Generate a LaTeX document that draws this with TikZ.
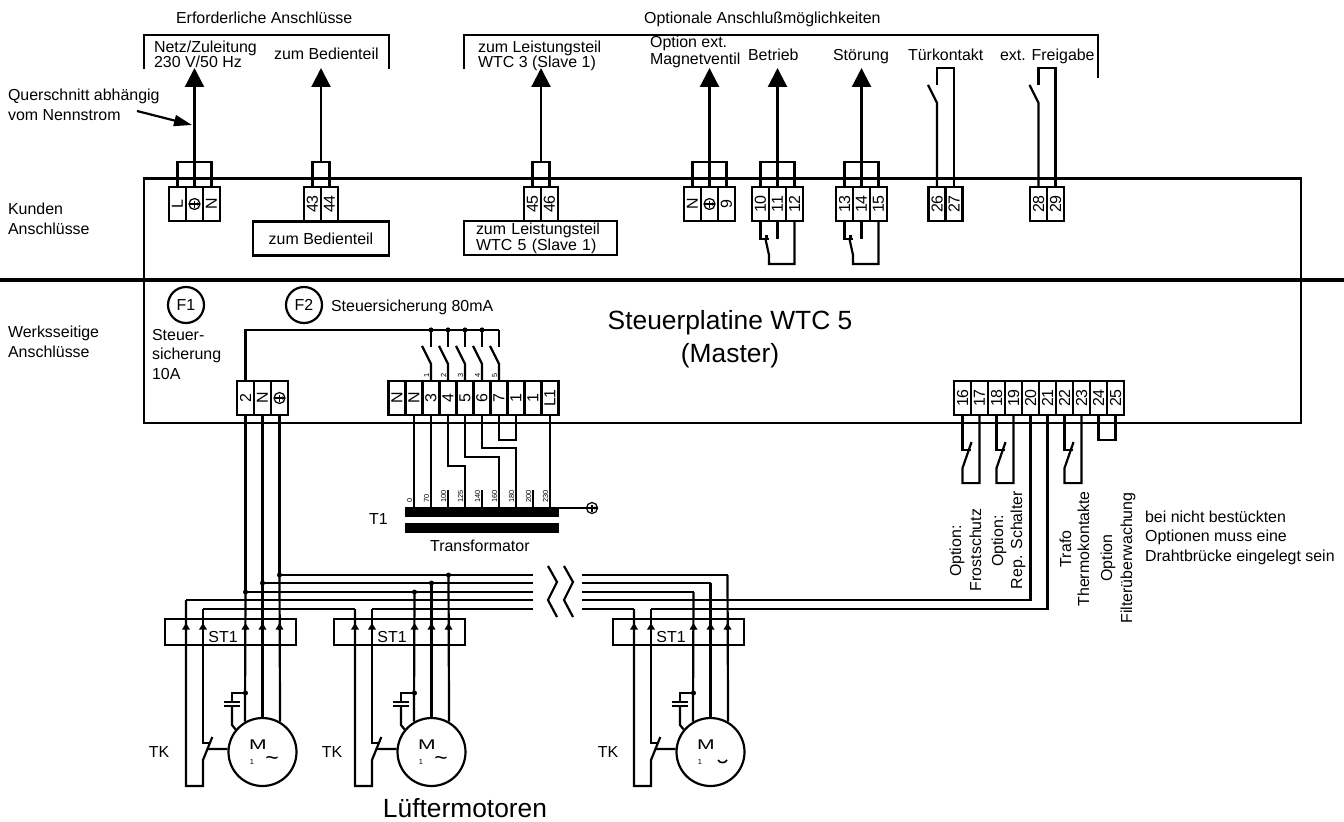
\documentclass[tikz,border=0pt]{standalone}
\usepackage{fontspec}
\setmainfont{Liberation Sans}
\usetikzlibrary{arrows.meta}
\tikzset{
  schrift/.style={inner sep=0pt, font=\fontsize{9.07}{9.07}\selectfont},
  zeilen/.style={schrift, align=left, anchor=base west, font=\fontsize{9.07}{#1}\selectfont},
  klemme/.style={draw, minimum width=.34cm, minimum height=.68cm, schrift},
  kasten/.style={draw, minimum height=.68cm, schrift},
  sicherung/.style={draw, circle, minimum size=.72cm, schrift},
  stecker/.style={draw, minimum width=2.62cm, minimum height=.52cm, inner sep=0pt},
  motor/.style={draw, circle, minimum size=1.36cm, inner sep=0pt},
  punkt/.style={circle, fill=black, minimum size=.1cm, inner sep=0pt},
  wicklung/.style={fill=black, minimum width=3.08cm, minimum height=.2cm, inner sep=0pt},
  winzig/.style={inner sep=0pt, rotate=90, anchor=west, font=\fontsize{4.2}{4.2}\selectfont},
  stehend/.style={schrift, rotate=90, anchor=base},
  pfeil/.style={-{Triangle[length=.38cm,width=.38cm]}},
  kleinpfeil/.style={-{Triangle[length=.13cm,width=.15cm]}},
  pics/erde/.style={code={
    \draw[line width=.7pt] (0,0) circle (5.5);
    \draw[line width=.7pt] (-5.5,0) -- (5.5,0) (0,-3.5) -- (0,3.5);
    \fill (3,0) circle (1.6);
  }}
}
\begin{document}
\begin{tikzpicture}[x=.02cm,y=-.02cm,line width=1.25pt]
  \useasboundingbox (0,0) rectangle (1344,821);
  \draw (144,178.5) rectangle (1301,423);
  \draw[line width=2.1pt] (0,280) -- (1344,280);
  \draw (144,69) -- (144,35) -- (389,35) -- (389,69);
  \draw (464,69) -- (464,35) -- (1098,35) -- (1098,78);

  % Texte oben und links
  \path (175,24) node[schrift, anchor=base west] (erfo) {Erforderliche Anschlüsse};
  \path (643,24) node[schrift, anchor=base west] (opti) {Optionale Anschlußmöglichkeiten};
  \path (153,68) node[zeilen=9.07pt] (netz) {Netz/Zuleitung\\230 V/50 Hz};
  \path (273,60) node[schrift, anchor=base west] (bedi) {zum Bedienteil};
  \path (477,68) node[zeilen=9.07pt] (wtc3) {zum Leistungsteil\\WTC 3 (Slave 1)};
  \path (649,64.5) node[zeilen=9.6pt] (magn) {Option ext.\\Magnetventil};
  \path (747,61) node[schrift, anchor=base west] (betr) {Betrieb};
  \path (832,61) node[schrift, anchor=base west] (stoe) {Störung};
  \path (907,61) node[schrift, anchor=base west] (tuer) {Türkontakt};
  \path (999,61) node[schrift, anchor=base west] (frei) {ext. Freigabe};
  \path (7,120) node[zeilen=11.3pt] (quer) {Querschnitt abhängig\\vom Nennstrom};
  \path (7,234) node[zeilen=11.05pt] (kund) {Kunden\\Anschlüsse};
  \path (7,357) node[zeilen=11.05pt] (werk) {Werksseitige\\Anschlüsse};
  \coordinate (qa) at (137,111);
  \coordinate (qb) at (192,125);
  \draw[-{Triangle[length=.36cm,width=.22cm]}] (qa) -- (qb);

  % Klemmen Kunden
  \foreach \nam/\xx/\lab in {kL/177.5/L, kE/194.5/, kN/211.5/N, k43/312.5/43, k44/329.5/44, k45/532.5/45, k46/549.5/46,
      kN9/692.5/N, kE9/709.5/, k9/726.5/9, k10/760.5/10, k11/777.5/11, k12/794.5/12, k13/844.5/13, k14/861.5/14, k15/878.5/15,
      k26/937/26, k27/954/27, k28/1038.5/28, k29/1055.5/29}
    \path (\xx,204) node[klemme] (\nam) {\rotatebox{90}{\lab}};
  \pic at (kE) {erde};
  \pic at (kE9) {erde};
  \path (321,238.5) node[kasten, minimum width=2.72cm] (bedbox) {zum Bedienteil\hspace{2.2pt}};
  \path (540.5,238) node[kasten, minimum width=3.06cm, text width=2.58cm, align=left] (w5box) {zum Leistungsteil\\WTC 5 (Slave 1)};

  \foreach \nam/\xx in {a/194.5, b/321, c/541, d/709.5, e/777.5, f/861.5} {
    \coordinate (br\nam) at (\xx,162);
    \coordinate (hin\nam) at (\xx,68);
    \draw[pfeil] (br\nam) -- (hin\nam);
  }
  \draw (kL.north) |- (bra) -| (kN.north);
  \draw (bra) -- (kE.north);
  \draw (k43.north) |- (brb) -| (k44.north);
  \draw (k45.north) |- (brc) -| (k46.north);
  \draw (kN9.north) |- (brd) -| (k9.north);
  \draw (brd) -- (kE9.north);
  \draw (k10.north) |- (bre) -| (k12.north);
  \draw (bre) -- (k11.north);
  \draw (k13.north) |- (brf) -| (k15.north);
  \draw (brf) -- (k14.north);

  % Schalter Tuerkontakt und Freigabe
  \foreach \ka/\kb in {k26/k27, k28/k29} {
    \path (\ka.north) +(0,-83) coordinate (\ka u) +(-9,-101) coordinate (\ka v) +(0,-101) coordinate (\ka w) +(0,-118) coordinate (\ka o);
    \draw (\ka.north) -- (\ka u) -- (\ka v);
    \draw (\ka w) -- (\ka o) -| (\kb.north);
  }
  % Meldekontakte Betrieb und Stoerung
  \foreach \ka/\kb/\kc in {k10/k11/k12, k13/k14/k15} {
    \path (\ka.south) +(8,17) coordinate (\ka a) +(6,13) coordinate (\ka t) +(5,17) coordinate (\ka b) +(8.5,33) coordinate (\ka c) +(8.5,42) coordinate (\ka d);
    \path (\kb.south) +(0,17) coordinate (\kb e);
    \draw (\ka.south) |- (\ka a);
    \draw (\kb.south) -- (\kb e);
    \draw (\ka t) -- (\ka t |- \ka a);
    \draw (\kc.south) |- (\ka d) -- (\ka c) -- (\ka b);
  }

  % Klemmen Werksseite
  \foreach \nam/\xx/\lab in {f2/245.5/2, fN/262.5/N, fE/279.5/, tNa/397/N, tNb/414/N, t3/431/3, t4/448/4, t5/465/5, t6/482/6, t7/499/7, taa/516/1, tab/533/1, tL1/550/L1,
      k16/962.5/16, k17/979.5/17, k18/996.5/18, k19/1013.5/19, k20/1030.5/20, k21/1047.5/21, k22/1064.5/22, k23/1081.5/23, k24/1098.5/24, k25/1115.5/25}
    \path (\xx,398) node[klemme] (\nam) {\rotatebox{90}{\lab}};
  \pic at (fE) {erde};

  \path (186,305) node[sicherung] (F1) {F1};
  \path (304,305) node[sicherung] (F2) {F2};
  \path (330,311) node[schrift, anchor=base west] (steu) {Steuersicherung 80mA};
  \path (151,379) node[zeilen=11.05pt] (zehn) {Steuer-\\sicherung\\10A};
  \path (730,362) node[inner sep=0pt, anchor=base, align=center, font=\fontsize{15}{18.7pt}\selectfont] (plat) {Steuerplatine WTC 5\\(Master)};

  % Steuersicherung und Stufenschalter
  \foreach \i/\nam in {1/t3,2/t4,3/t5,4/t6,5/t7} {
    \path (\nam.north) +(0,-16) coordinate (swu\i) +(-9,-34) coordinate (swv\i) +(0,-33) coordinate (sww\i) +(0,-50) coordinate (swo\i);
    \draw (\nam.north) -- (swu\i) -- (swv\i);
    \draw (sww\i) -- (swo\i);
    \path (\nam.north) +(-4.5,-1) node[winzig] (nr\i) {\i};
  }
  \draw (f2.north) |- (swo5);
  \foreach \i in {1,2,3,4} \path (swo\i) node[punkt] (pk\i) {};

  % Transformator
  \path (482,512) node[wicklung] (trafa) {};
  \path (482,528) node[wicklung] (trafb) {};
  \foreach \lab/\xx in {0/414,70/431,100/448,125/465,140/482,160/499,180/516,200/533,230/550} {
    \coordinate (tap\lab) at (\xx,507);
    \path (tap\lab) +(-4.5,-3) node[winzig] (ta\lab) {\lab};
  }
  \foreach \lab in {100,140,200} {
    \path (tap\lab) +(0,-17) coordinate (sti\lab);
    \draw (tap\lab) -- (sti\lab);
  }
  \coordinate (bd4) at (465,466);
  \coordinate (bd5) at (499,457);
  \coordinate (bd6) at (516,448);
  \coordinate (bd7) at (516,440);
  \draw (tNb.south) -- (tap0);
  \draw (t3.south) -- (tap70);
  \draw (t4.south) |- (bd4) -- (tap125);
  \draw (t5.south) |- (bd5) -- (tap160);
  \draw (t6.south) |- (bd6) -- (tap180);
  \draw (t7.south) |- (bd7) -- (taa.south);
  \draw (tL1.south) -- (tap230);
  \coordinate (erdT) at (586,508);
  \draw[line width=.7pt] (559,508) -- (erdT);
  \pic at (592,508) {erde};
  \path (368,524) node[schrift, anchor=base west] (T1) {T1};
  \path (429,551) node[schrift, anchor=base west] (trafo) {Transformator};

  % Optionen unten rechts
  \foreach \ka/\kb in {k16/k17, k18/k19, k22/k23} {
    \path (\ka.south) +(8,34) coordinate (\ka a) +(9,26) coordinate (\ka b) +(0,52) coordinate (\ka c) +(0,67) coordinate (\ka d);
    \draw (\ka.south) |- (\ka a);
    \draw (\kb.south) |- (\ka d) -- (\ka c) -- (\ka b);
  }
  \coordinate (bru) at (1098.5,440);
  \draw (k24.south) |- (bru) -| (k25.south);
  \path (961,551) node[stehend] (fr1) {Option:};
  \path (981,550) node[stehend] (fr2) {Frostschutz};
  \path (1003,541) node[stehend] (re1) {Option:};
  \path (1022,540) node[stehend] (re2) {Rep. Schalter};
  \path (1071,549) node[stehend] (th1) {Trafo};
  \path (1089,549) node[stehend] (th2) {Thermokontakte};
  \path (1112,558) node[stehend] (fi1) {Option};
  \path (1132,558) node[stehend] (fi2) {Filterüberwachung};
  \path (1144,561) node[zeilen=10.95pt] (hinw) {bei nicht bestückten\\Optionen muss eine\\Drahtbrücke eingelegt sein};

  % Luefter
  \foreach \mm/\ox/\ya in {1/0/600, 2/169/609, 3/448/609} {
    \path (230.5+\ox,632) node[stecker] (st\mm) {};
    \path (223+\ox,637) node[schrift] (stl\mm) {ST1};
    \path (262.5+\ox,752) node[motor] (mot\mm) {};
    \path (258+\ox,745) node[inner sep=0pt, font=\fontsize{8}{8}\selectfont, xscale=1.5] (mm\mm) {M};
    \path (252+\ox,762) node[inner sep=0pt, font=\fontsize{4.2}{4.2}\selectfont] (eins\mm) {1};
    \coordinate (bu\mm) at (245.5+\ox,592);
    \coordinate (bv\mm) at (262.5+\ox,583);
    \coordinate (bw\mm) at (279.5+\ox,575);
    \coordinate (la\mm) at (186+\ox,\ya);
    \coordinate (lb\mm) at (203+\ox,609);
    \coordinate (ua\mm) at (186+\ox,786);
    \coordinate (ub\mm) at (203+\ox,786);
    \coordinate (tkc\mm) at (203+\ox,760);
    \coordinate (tkd\mm) at (212.3+\ox,737);
    \coordinate (tka\mm) at (203+\ox,743);
    \coordinate (tkb\mm) at (209+\ox,743);
    \coordinate (tke\mm) at (206.5+\ox,749);
    \coordinate (ck\mm) at (245.5+\ox,693);
    \coordinate (cl\mm) at (232+\ox,693);
    \coordinate (cm\mm) at (232+\ox,702);
    \coordinate (cn\mm) at (232+\ox,706);
    \coordinate (co\mm) at (232+\ox,725);
    \draw (bu\mm) -- (mot\mm.120);
    \draw (bv\mm) -- (mot\mm.90);
    \draw (bw\mm) -- (mot\mm.60);
    \draw (la\mm) -- (ua\mm) -- (ub\mm) -- (tkc\mm) -- (tkd\mm);
    \draw (lb\mm) -- (tka\mm) -- (tkb\mm);
    \draw (tke\mm) -- (mot\mm.175);
    \draw (ck\mm) -- (cl\mm) -- (cm\mm);
    \draw (cn\mm) -- (co\mm) -- (mot\mm.140);
    \draw (224+\ox,702) -- (240+\ox,702);
    \draw (224+\ox,706) -- (240+\ox,706);
    \path (ck\mm) node[punkt] (pc\mm) {};
    \foreach \xx in {186,203,245.5,262.5,279.5}
      \draw[kleinpfeil] (\xx+\ox,630) -- (\xx+\ox,623);
  }
  \path (159,752) node[schrift] (TK1) {TK};
  \path (332,752) node[schrift] (TK2) {TK};
  \path (608,752) node[schrift] (TK3) {TK};
  \path (272,761) node[inner sep=0pt, font=\fontsize{13}{13}\selectfont] (ti1) {\textasciitilde};
  \path (441,761) node[inner sep=0pt, font=\fontsize{13}{13}\selectfont] (ti2) {\textasciitilde};
  \draw[line width=.9pt] (718,760) .. controls (720,763.5) and (725,763.5) .. (727,760);
  \path (465,817) node[inner sep=0pt, anchor=base, font=\fontsize{15}{15}\selectfont] (luef) {Lüftermotoren};

  % Sammelleitungen
  \foreach \i/\yy in {1/575, 2/583, 3/592, 4/600, 5/609} {
    \coordinate (bl\i) at (533,\yy);
    \coordinate (br\i) at (582,\yy);
  }
  \draw (f2.south) -- (bu1);
  \draw (fN.south) -- (bv1);
  \draw (fE.south) -- (bw1);
  \draw (bw1) -- (bl1);
  \draw (bv1) -- (bl2);
  \draw (bu1) -- (bl3);
  \draw (la1) -- (bl4);
  \draw (lb1) -- (la2);
  \draw (lb2) -- (bl5);
  \draw (br1) -- (bw3);
  \draw (br2) -- (bv3);
  \draw (br3) -- (bu3);
  \draw (br5) -- (la3);
  \draw (k20.south) |- (br4);
  \draw (k21.south) |- (lb3);
  \foreach \mm in {1,2} {
    \path (bu\mm) node[punkt] (pu\mm) {};
    \path (bv\mm) node[punkt] (pv\mm) {};
    \path (bw\mm) node[punkt] (pw\mm) {};
  }
  \draw (548,566) -- (557,582) -- (548,600) -- (557,617);
  \draw (564,566) -- (573,582) -- (564,600) -- (573,617);
\end{tikzpicture}
\end{document}
